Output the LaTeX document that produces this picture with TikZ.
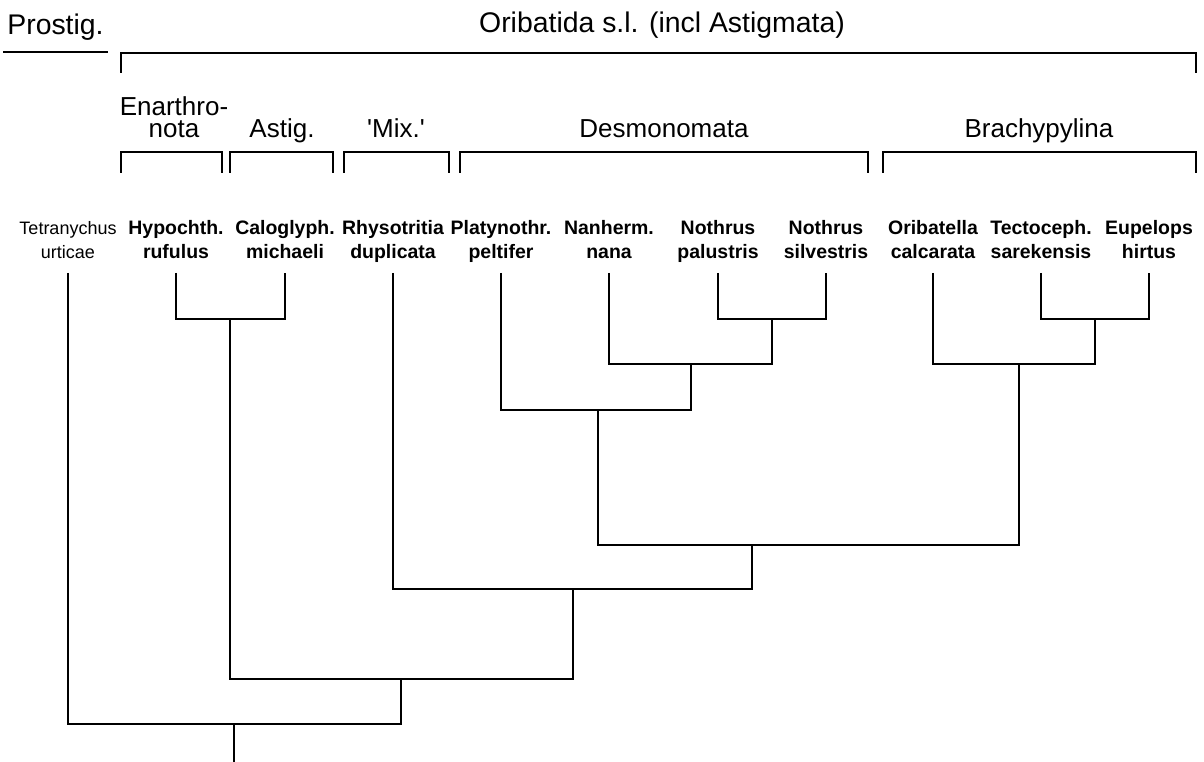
\documentclass[tikz,border=0pt]{standalone}
\usepackage{fontspec}
\setmainfont{Liberation Sans}
\usepackage{tikz}
\usetikzlibrary{positioning}

\begin{document}
\begin{tikzpicture}[
    x=0.75pt, y=-0.75pt,
    head/.style={anchor=base, inner sep=0pt, align=center, font=\fontsize{19.5}{17}\selectfont},
    tophead/.style={head, font=\fontsize{21.3}{18}\selectfont},
    taxon/.style={anchor=base, inner sep=0pt, align=center, font=\fontsize{13.5}{18}\selectfont},
    taxonb/.style={taxon, font=\fontsize{14.6}{18}\selectfont\bfseries},
    brk/.style={line width=1.7pt},
    branch/.style={line width=1.7pt},
]
\useasboundingbox (0,0) rectangle (1204,762);

\node[tophead] (prostig) at (55.5,35) {Prostig.};
\node[tophead] (oriba) at (662,33) {Oribatida s.l. (incl Astigmata)};
\node[head] (enar) at (174,138) {Enarthro-\\nota};
\node[head] (astig) at (282,138) {Astig.};
\node[head] (mix) at (396,138) {\textquotesingle Mix.\textquotesingle};
\node[head] (desmo) at (664,138) {Desmonomata};
\node[head] (brachy) at (1039,138) {Brachypylina};

\draw[brk] (3,52) -- (108,52);
\draw[brk] (121,73) |- (1196,53) -- (1196,73);
\draw[brk] (121,173) |- (222,152) -- (222,173);
\draw[brk] (230,173) |- (333,152) -- (333,173);
\draw[brk] (344,173) |- (449,152) -- (449,173);
\draw[brk] (460,173) |- (868,152) -- (868,173);
\draw[brk] (883,173) |- (1196,152) -- (1196,173);

\node[taxon] (tetra) at (68,259) {Tetranychus\\urticae};
\node[taxonb] (hypo) at (176,259) {Hypochth.\\rufulus};
\node[taxonb] (calo) at (285,259) {Caloglyph.\\michaeli};
\node[taxonb] (rhyso) at (393,259) {Rhysotritia\\duplicata};
\node[taxonb] (platy) at (501,259) {Platynothr.\\peltifer};
\node[taxonb] (nanh) at (609,259) {Nanherm.\\nana};
\node[taxonb] (npal) at (718,259) {Nothrus\\palustris};
\node[taxonb] (nsil) at (826,259) {Nothrus\\silvestris};
\node[taxonb] (orib) at (933,259) {Oribatella\\calcarata};
\node[taxonb] (tect) at (1041,259) {Tectoceph.\\sarekensis};
\node[taxonb] (eupe) at (1149,259) {Eupelops\\hirtus};

\foreach \t in {tetra,hypo,calo,rhyso,platy,nanh,npal,nsil,orib,tect,eupe}
    \coordinate (\t-tip) at (\t.base |- 0,273);

\coordinate (j-hc) at (230,319);
\coordinate (j-ns) at (772,319);
\coordinate (j-te) at (1095,319);
\coordinate (j-nan) at (691,364);
\coordinate (j-ori) at (1019,364);
\coordinate (j-pla) at (598,410);
\coordinate (j-db) at (752,545);
\coordinate (j-rh) at (573,589);
\coordinate (j-hr) at (401,679);
\coordinate (j-root) at (234,724);
\coordinate (root) at (234,762);

\draw[branch] (hypo-tip) |- (j-hc) -| (calo-tip);
\draw[branch] (npal-tip) |- (j-ns) -| (nsil-tip);
\draw[branch] (tect-tip) |- (j-te) -| (eupe-tip);
\draw[branch] (nanh-tip) |- (j-nan) -| (j-ns);
\draw[branch] (orib-tip) |- (j-ori) -| (j-te);
\draw[branch] (platy-tip) |- (j-pla) -| (j-nan);
\draw[branch] (j-pla) |- (j-db) -| (j-ori);
\draw[branch] (rhyso-tip) |- (j-rh) -| (j-db);
\draw[branch] (j-hc) |- (j-hr) -| (j-rh);
\draw[branch] (tetra-tip) |- (j-root) -| (j-hr);
\draw[branch] (j-root) -- (root);
\end{tikzpicture}
\end{document}
